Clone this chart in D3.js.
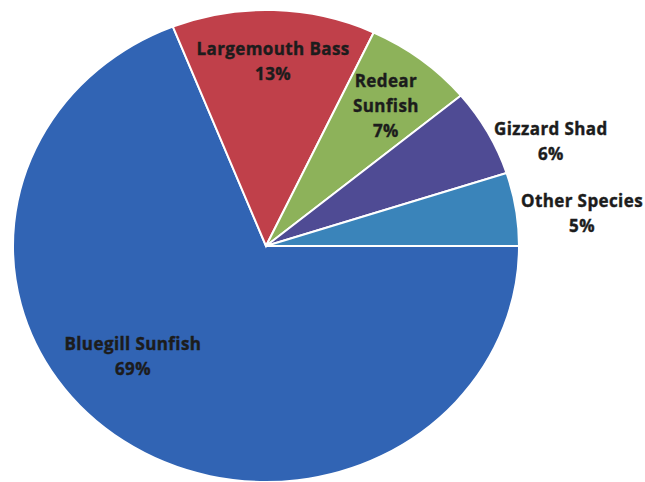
<!DOCTYPE html>
<html>
<head>
<meta charset="utf-8">
<script src="https://cdn.jsdelivr.net/npm/d3@7"></script>
<style>
  html, body { margin: 0; padding: 0; background: #fff; }
  svg { display: block; }
</style>
</head>
<body>
<svg id="chart" width="645" height="482"></svg>
<script>
// ---- data ----
const species = ["Bluegill Sunfish", "Largemouth Bass", "Redear Sunfish", "Gizzard Shad", "Other Species"];
const percents = [69, 13, 7, 6, 5];
const labelLines = [["Bluegill Sunfish"], ["Largemouth Bass"], ["Redear", "Sunfish"], ["Gizzard Shad"], ["Other Species"]];
const colors = ["#3164b4", "#c0404a", "#8db25a", "#4f4b94", "#3a84ba"];

// ---- layout ----
const W = 645, H = 482;
const cx = 266, cy = 246, rx = 253, ry = 236;
// label anchor offsets, in fractions of the radii
const labelOffsets = [[-0.526, 0.462], [0.028, -0.788], [0.474, -0.597], [1.126, -0.449], [1.249, -0.14]];

const svg = d3.select("#chart");
const data = species.map((s, i) => ({ name: s, value: percents[i], lines: labelLines[i], color: colors[i], off: labelOffsets[i] }));

const pie = d3.pie().value(d => d.value).sort(null)
  .startAngle(Math.PI / 2).endAngle(Math.PI / 2 + 2 * Math.PI);
const arc = d3.arc().innerRadius(0).outerRadius(rx);

const g = svg.append("g").attr("transform", `translate(${cx},${cy}) scale(1,${ry / rx})`);
g.selectAll("path").data(pie(data)).join("path")
  .attr("d", arc)
  .attr("fill", d => d.data.color)
  .attr("stroke", "#ffffff")
  .attr("stroke-width", 2)
  .attr("vector-effect", "non-scaling-stroke");

const lineH = 25;
const lbl = svg.append("g")
  .attr("font-family", "'Open Sans', sans-serif")
  .attr("font-weight", "bold")
  .attr("font-size", 17)
  .attr("letter-spacing", 0.4)
  .attr("fill", "#1c1c1c")
  .attr("stroke", "#1c1c1c")
  .attr("stroke-width", 0.4)
  .attr("text-anchor", "middle");

data.forEach(d => {
  const lines = d.lines.concat([d.value + "%"]);
  const x = cx + d.off[0] * rx;
  const y0 = cy + d.off[1] * ry - (lines.length - 1) * lineH / 2;
  const t = lbl.append("text").attr("x", x).attr("y", y0).attr("dominant-baseline", "central");
  lines.forEach((ln, i) => {
    t.append("tspan").attr("x", x).attr("y", y0 + i * lineH).text(ln);
  });
});
</script>
</body>
</html>
